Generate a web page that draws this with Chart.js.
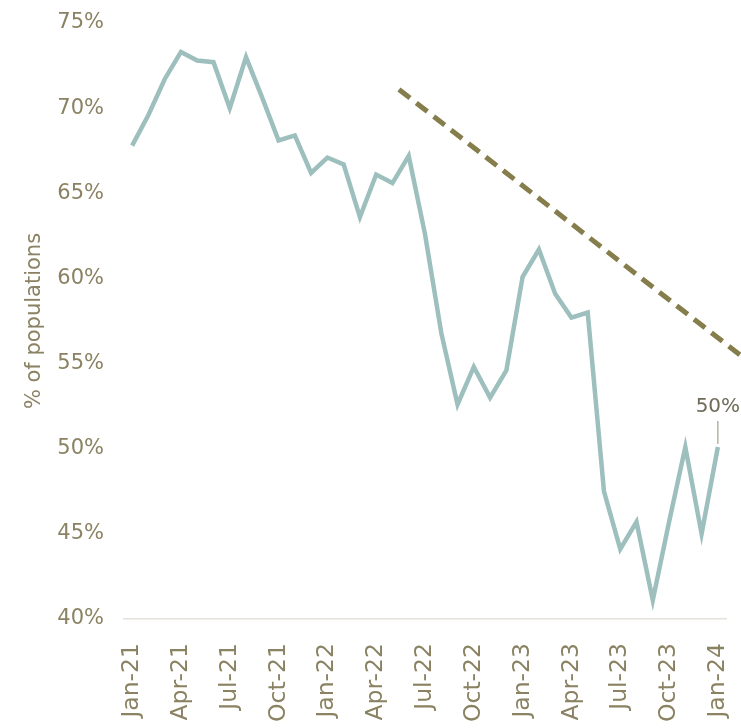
<!DOCTYPE html>
<html>
<head>
<meta charset="utf-8">
<script src="https://cdn.jsdelivr.net/npm/chart.js@4/dist/chart.umd.min.js"></script>
<style>
  html, body { margin: 0; padding: 0; background: #fff; }
  #wrap { width: 741px; height: 728px; }
</style>
</head>
<body>
<div id="wrap"><canvas id="popChart"></canvas></div>
<script>
// 月ラベル（Jan-21 〜 Jan-24）
const months = [
  'Jan-21', 'Feb-21', 'Mar-21', 'Apr-21', 'May-21', 'Jun-21', 'Jul-21', 'Aug-21', 'Sep-21', 'Oct-21', 'Nov-21', 'Dec-21',
  'Jan-22', 'Feb-22', 'Mar-22', 'Apr-22', 'May-22', 'Jun-22', 'Jul-22', 'Aug-22', 'Sep-22', 'Oct-22', 'Nov-22', 'Dec-22',
  'Jan-23', 'Feb-23', 'Mar-23', 'Apr-23', 'May-23', 'Jun-23', 'Jul-23', 'Aug-23', 'Sep-23', 'Oct-23', 'Nov-23', 'Dec-23',
  'Jan-24',
];

// % of populations
const shareValues = [
  67.8, 69.6, 71.7, 73.3, 72.8, 72.7, 70.0, 73.0, 70.6, 68.1, 68.4, 66.2,
  67.1, 66.7, 63.6, 66.1, 65.6, 67.2, 62.6, 56.8, 52.6, 54.8, 53.0, 54.6,
  60.1, 61.7, 59.1, 57.7, 58.0, 47.5, 44.1, 45.7, 41.1, 45.7, 50.1, 45.0,
  50.1,
];

// トレンド線（月インデックス, 値）
const trendX = [16.4, 37.5];
const trendY = [71.1, 55.4];

const yTicks = [40, 45, 50, 55, 60, 65, 70, 75];

const textColor = '#8a8262';
const fontFamily = "'DejaVu Sans', sans-serif";

// 最終値のラベル（引き出し線つき）
const lastLabelPlugin = {
  id: 'lastLabel',
  afterDatasetsDraw(chart) {
    const meta = chart.getDatasetMeta(0);
    const pt = meta.data[meta.data.length - 1];
    const ctx = chart.ctx;
    ctx.save();
    ctx.strokeStyle = '#b8b2a2';
    ctx.lineWidth = 1.5;
    ctx.beginPath();
    ctx.moveTo(pt.x, pt.y - 3);
    ctx.lineTo(pt.x, pt.y - 26);
    ctx.stroke();
    ctx.fillStyle = '#6f6a58';
    ctx.font = '20px ' + fontFamily;
    ctx.textAlign = 'center';
    ctx.textBaseline = 'bottom';
    ctx.fillText(Math.round(shareValues[shareValues.length - 1]) + '%', pt.x, pt.y - 30);
    ctx.restore();
  },
};

new Chart(document.getElementById('popChart').getContext('2d'), {
  type: 'line',
  data: {
    labels: months,
    datasets: [
      {
        label: '% of populations',
        data: shareValues,
        borderColor: '#9dbfbd',
        borderWidth: 4.5,
        pointRadius: 0,
        tension: 0,
        xAxisID: 'x',
      },
      {
        label: 'trend',
        data: trendX.map((x, i) => ({ x: x, y: trendY[i] })),
        borderColor: '#857d4c',
        borderWidth: 5,
        borderDash: [14, 8],
        pointRadius: 0,
        xAxisID: 'x2',
        clip: false,
      },
    ],
  },
  options: {
    responsive: true,
    maintainAspectRatio: false,
    animation: false,
    layout: { padding: { left: 22, right: 15, top: 23, bottom: 0 } },
    plugins: { legend: { display: false }, tooltip: { enabled: false } },
    scales: {
      x: {
        type: 'category',
        offset: true,
        grid: { display: false, drawTicks: false },
        border: { display: true, color: '#e6e2da', width: 1.5 },
        afterFit: function (axis) {
          axis.height = 109;
          axis.paddingLeft = 0;
          axis.paddingRight = 0;
        },
        ticks: {
          autoSkip: false,
          minRotation: 90,
          maxRotation: 90,
          padding: 24,
          color: textColor,
          font: { family: fontFamily, size: 23.5 },
          callback: function (value, index) {
            return index % 3 === 0 ? months[index] : '';
          },
        },
      },
      x2: {
        type: 'linear',
        display: false,
        min: -0.5,
        max: months.length - 0.5,
      },
      y: {
        min: yTicks[0],
        max: yTicks[yTicks.length - 1],
        grid: { display: false, drawTicks: false },
        border: { display: false },
        afterBuildTicks: function (axis) {
          axis.ticks = yTicks.map((v) => ({ value: v }));
        },
        afterFit: function (axis) {
          axis.width = 102;
          axis.paddingTop = 0;
          axis.paddingBottom = 0;
        },
        ticks: {
          padding: 20,
          color: textColor,
          font: { family: fontFamily, size: 21 },
          callback: function (value) {
            return value + '%';
          },
        },
        title: {
          display: true,
          text: '% of populations',
          color: textColor,
          font: { family: fontFamily, size: 21 },
          padding: { top: 0, bottom: 11 },
        },
      },
    },
  },
  plugins: [lastLabelPlugin],
});
</script>
</body>
</html>
